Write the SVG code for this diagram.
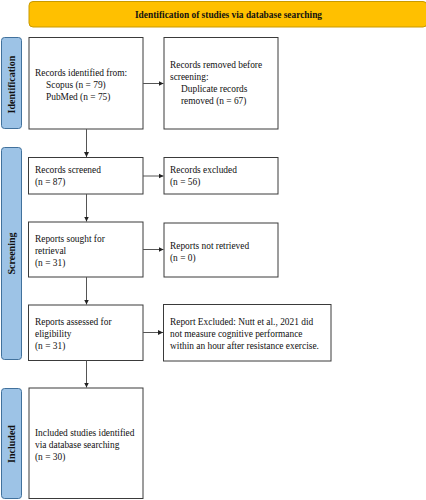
<svg xmlns="http://www.w3.org/2000/svg" width="426" height="500" viewBox="0 0 426 500">
<defs>
<marker id="ah" markerWidth="6" markerHeight="6" refX="5" refY="3" orient="auto" markerUnits="userSpaceOnUse">
<path d="M0,0.5 L5,3 L0,5.5 Z" fill="#222"/>
</marker>
<style>
.box{fill:#fff;stroke:#3a3a3a;stroke-width:1}
.side{fill:#9dc3e6;stroke:#41719c;stroke-width:1}
.t{font-family:"Liberation Serif","Times New Roman",serif;font-size:9.4px;fill:#111}
.st{font-family:"Liberation Serif","Times New Roman",serif;font-size:9.4px;font-weight:bold;fill:#111}
.sl{font-family:"Liberation Serif","Times New Roman",serif;font-size:10px;font-weight:bold;fill:#111}
.c{stroke:#555;stroke-width:1;fill:none;marker-end:url(#ah)}
</style>
</defs>
<rect width="426" height="500" fill="#fff"/>
<g id="header">
<rect x="29" y="1.5" width="398" height="25.5" rx="4" fill="#ffc000" stroke="#c99a00" stroke-width="1"/>
<text class="st" x="228.5" y="17.5" text-anchor="middle">Identification of studies via database searching</text>
</g>
<g id="side-identification">
<rect class="side" x="1.5" y="37.5" width="20" height="91" rx="3"/>
<text class="sl" transform="translate(14.8,84.5) rotate(-90)" text-anchor="middle">Identification</text>
</g>
<g id="side-screening">
<rect class="side" x="1.5" y="147.5" width="20" height="212" rx="3"/>
<text class="sl" transform="translate(14.8,253.5) rotate(-90)" text-anchor="middle">Screening</text>
</g>
<g id="side-included">
<rect class="side" x="1.5" y="388.5" width="20" height="110" rx="3"/>
<text class="sl" transform="translate(14.8,444) rotate(-90)" text-anchor="middle">Included</text>
</g>
<g id="n-identified">
<rect class="box" x="29" y="37.5" width="114" height="91.5"/>
<text class="t" x="35" y="76">Records identified from:</text>
<text class="t" x="46" y="88">Scopus (n = 79)</text>
<text class="t" x="46" y="100">PubMed (n = 75)</text>
</g>
<g id="n-removed">
<rect class="box" x="164" y="37.5" width="114" height="91.5"/>
<text class="t" x="170" y="68">Records removed before</text>
<text class="t" x="170" y="80">screening:</text>
<text class="t" x="181" y="92">Duplicate records</text>
<text class="t" x="181" y="104">removed (n = 67)</text>
</g>
<g id="n-screened">
<rect class="box" x="28.5" y="157.5" width="114.5" height="36.5"/>
<text class="t" x="35" y="173">Records screened</text>
<text class="t" x="35" y="185">(n = 87)</text>
</g>
<g id="n-excluded">
<rect class="box" x="164" y="157.5" width="114" height="36.5"/>
<text class="t" x="170" y="173">Records excluded</text>
<text class="t" x="170" y="185">(n = 56)</text>
</g>
<g id="n-sought">
<rect class="box" x="28.5" y="222" width="114.5" height="55"/>
<text class="t" x="35" y="242">Reports sought for</text>
<text class="t" x="35" y="254">retrieval</text>
<text class="t" x="35" y="266">(n = 31)</text>
</g>
<g id="n-notretrieved">
<rect class="box" x="164" y="223" width="114" height="54"/>
<text class="t" x="170" y="249">Reports not retrieved</text>
<text class="t" x="170" y="261">(n = 0)</text>
</g>
<g id="n-assessed">
<rect class="box" x="28.5" y="305" width="114.5" height="55.5"/>
<text class="t" x="35" y="325">Reports assessed for</text>
<text class="t" x="35" y="337">eligibility</text>
<text class="t" x="35" y="349">(n = 31)</text>
</g>
<g id="n-reportexcluded">
<rect class="box" x="163.5" y="304.5" width="167.5" height="56.5"/>
<text class="t" x="170" y="325">Report Excluded: Nutt et al., 2021 did</text>
<text class="t" x="170" y="337">not measure cognitive performance</text>
<text class="t" x="170" y="349">within an hour after resistance exercise.</text>
</g>
<g id="n-included">
<rect class="box" x="29" y="388" width="114" height="110.5"/>
<text class="t" x="35" y="436">Included studies identified</text>
<text class="t" x="35" y="448">via database searching</text>
<text class="t" x="35" y="460">(n = 30)</text>
</g>
<g id="connectors">
<line class="c" x1="143" y1="83.5" x2="163.5" y2="83.5"/>
<line class="c" x1="86.5" y1="129" x2="86.5" y2="157"/>
<line class="c" x1="143" y1="176" x2="163.5" y2="176"/>
<line class="c" x1="86.5" y1="194" x2="86.5" y2="221.5"/>
<line class="c" x1="143" y1="249.5" x2="163.5" y2="249.5"/>
<line class="c" x1="86.5" y1="277" x2="86.5" y2="304.5"/>
<line class="c" x1="143" y1="332.5" x2="163" y2="332.5"/>
<line class="c" x1="86.5" y1="360.5" x2="86.5" y2="387.5"/>
</g>
</svg>
